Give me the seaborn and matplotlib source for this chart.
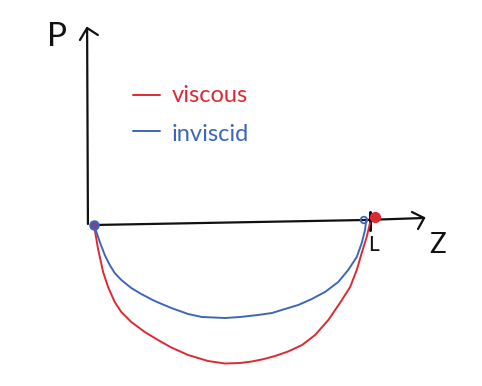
import numpy as np
import pandas as pd
import matplotlib
matplotlib.use("Agg")
import matplotlib.pyplot as plt
import seaborn as sns

# ---- data (z in units of L, P in arbitrary units) ----
z_inviscid = [0.000, 0.021, 0.039, 0.057, 0.075, 0.099, 0.135, 0.171, 0.220, 0.280,
              0.341, 0.391, 0.475, 0.529, 0.594, 0.645, 0.692, 0.740, 0.789, 0.837,
              0.885, 0.921, 0.952, 0.970, 0.982, 0.986]
p_inviscid = [-0.01, -0.18, -0.31, -0.41, -0.49, -0.56, -0.64, -0.70, -0.77, -0.84,
              -0.90, -0.93, -0.94, -0.93, -0.91, -0.89, -0.85, -0.81, -0.75, -0.68,
              -0.58, -0.46, -0.33, -0.19, -0.06, 0.03]
z_viscous = [0.000, 0.014, 0.033, 0.051, 0.075, 0.099, 0.135, 0.184, 0.232, 0.280,
             0.341, 0.413, 0.475, 0.529, 0.572, 0.616, 0.656, 0.703, 0.754, 0.801,
             0.849, 0.891, 0.928, 0.952, 0.970, 0.988, 1.000]
p_viscous = [-0.01, -0.24, -0.48, -0.63, -0.78, -0.88, -0.98, -1.08, -1.16, -1.235,
             -1.31, -1.37, -1.395, -1.39, -1.375, -1.35, -1.32, -1.275, -1.21, -1.11,
             -0.96, -0.79, -0.63, -0.46, -0.29, -0.13, 0.01]
series_labels = ["viscous", "inviscid"]
axis_labels = ["P", "Z"]
tick_label = "L"

RED = "#dc2a33"
BLUE = "#3e66b8"
BLACK = "#111111"

sns.set_style("white")
plt.rcParams["font.family"] = ["Lato", "DejaVu Sans"]

fig = plt.figure(figsize=(4.82, 3.86), dpi=100)
ax = fig.add_axes([0, 0, 1, 1])
ax.set_xlim(-0.3406, 1.4058)
ax.set_ylim(-1.62, 2.24)
ax.axis("off")

df_v = pd.DataFrame({"z": z_viscous, "P": p_viscous})
df_i = pd.DataFrame({"z": z_inviscid, "P": p_inviscid})

# axes (hand-drawn)
ax.plot([-0.022, -0.025], [0.0, 1.96], color=BLACK, lw=1.6, solid_capstyle="round")
ax.plot([-0.051, -0.025, 0.014], [1.84, 1.96, 1.89], color=BLACK, lw=1.6,
        solid_joinstyle="round", solid_capstyle="round")
ax.plot([0.0, 0.982, 1.196], [-0.01, 0.04, 0.06], color=BLACK, lw=1.6, solid_capstyle="round")
ax.plot([1.152, 1.196, 1.174], [0.12, 0.06, -0.05], color=BLACK, lw=1.6,
        solid_joinstyle="round", solid_capstyle="round")
ax.plot([1.0, 1.0], [0.12, -0.06], color=BLACK, lw=2.2, solid_capstyle="round")

# curves
sns.lineplot(data=df_v, x="z", y="P", sort=False, color=RED, lw=1.4, ax=ax,
             solid_joinstyle="round")
sns.lineplot(data=df_i, x="z", y="P", sort=False, color=BLUE, lw=1.4, ax=ax,
             solid_joinstyle="round")

# end points
ax.scatter([0.0], [-0.01], s=40, color="#6a4a9a", zorder=5, edgecolor=BLUE, linewidth=1.2)
ax.scatter([0.978], [0.04], s=22, facecolor="none", edgecolor=BLUE, linewidth=1.3, zorder=5)
ax.scatter([1.018], [0.07], s=50, color=RED, zorder=6)

# legend (hand-drawn)
ax.plot([0.141, 0.239], [1.29, 1.29], color=RED, lw=1.4)
ax.plot([0.141, 0.239], [0.93, 0.93], color=BLUE, lw=1.4)
ax.text(0.282, 1.22, series_labels[0], color=RED, fontsize=17, va="baseline", ha="left")
ax.text(0.282, 0.83, series_labels[1], color=BLUE, fontsize=17, va="baseline", ha="left")

# labels
ax.text(-0.134, 1.87, axis_labels[0], color=BLACK, fontsize=24, va="center", ha="center")
ax.text(1.243, -0.21, axis_labels[1], color=BLACK, fontsize=20, va="center", ha="center")
ax.text(1.014, -0.21, tick_label, color=BLACK, fontsize=15, va="center", ha="center")

fig.savefig("out.png", dpi=100)
